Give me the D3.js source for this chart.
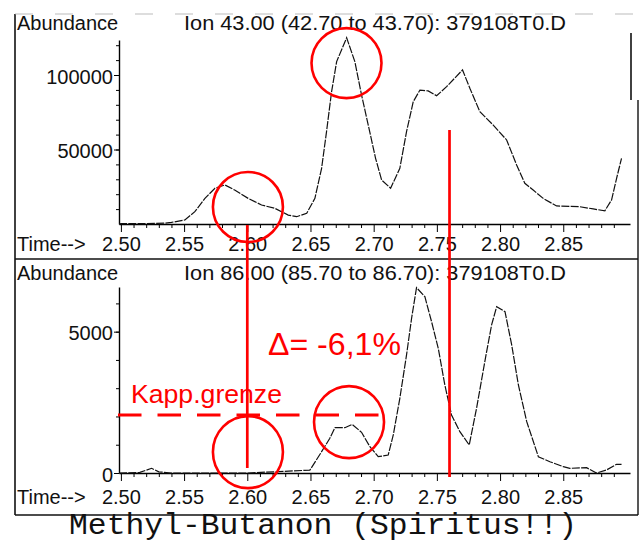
<!DOCTYPE html>
<html>
<head>
<meta charset="utf-8">
<script src="https://cdn.jsdelivr.net/npm/d3@7"></script>
<style>
  html, body { margin: 0; padding: 0; background: #fff; }
  svg { display: block; }
  text { font-family: "Liberation Sans", Arial, Helvetica, sans-serif; fill: #111; }
</style>
</head>
<body>
<svg id="chart" width="641" height="544"></svg>
<script>
// Ion 43 trace (retention time in min, abundance)
const ion43Time  = [2.4985, 2.500, 2.520, 2.535, 2.540, 2.5506, 2.5585, 2.5665, 2.5744, 2.5823, 2.590, 2.6007,
                    2.6113, 2.6218, 2.6324, 2.639, 2.647, 2.6535, 2.6588, 2.6627, 2.6667, 2.6707, 2.6786,
                    2.6851, 2.6904, 2.6957, 2.7015, 2.7063, 2.7134, 2.7207, 2.726, 2.7313, 2.7366, 2.7431,
                    2.7498, 2.7577, 2.7703, 2.7761, 2.784, 2.7946, 2.8052, 2.8131, 2.8196, 2.8262, 2.8341,
                    2.8447, 2.8631, 2.8737, 2.8829, 2.8882, 2.8922, 2.8961];
const ion43Abund = [0, 200, 300, 600, 1100, 2700, 8300, 17200, 24000, 26200, 22800, 17200,
                    12750, 10500, 6000, 4900, 7200, 17200, 37400, 62000, 88800, 109000, 125000,
                    109000, 86600, 66400, 44100, 29500, 24000, 37400, 62000, 82100, 89900, 89300,
                    86100, 92200, 103400, 91100, 75400, 66400, 56400, 39600, 27300, 22800, 17200,
                    12100, 11600, 10100, 8900, 16100, 30700, 44100];

// Ion 86 trace
const ion86Time  = [2.4985, 2.515, 2.5243, 2.530, 2.540, 2.600, 2.6495, 2.6588, 2.6653, 2.6693, 2.6772, 2.683,
                    2.6904, 2.697, 2.7036, 2.7115, 2.7155, 2.7207, 2.726, 2.730, 2.7339, 2.7405, 2.7458,
                    2.7511, 2.7563, 2.7616, 2.7682, 2.7756, 2.7814, 2.7884, 2.7933, 2.7973, 2.8039, 2.8092,
                    2.8145, 2.8211, 2.8303, 2.8394, 2.850, 2.8552, 2.8684, 2.8763, 2.8842, 2.8922, 2.8961];
const ion86Abund = [0, 20, 166, 40, 0, 0, 100, 754, 1228, 1603, 1603, 1720,
                    1440, 931, 577, 637, 1345, 2643, 4176, 5474, 6557, 6238, 5354,
                    4412, 3114, 2052, 1461, 991, 2289, 4058, 5237, 5885, 5707, 4529,
                    3114, 1815, 577, 400, 223, 166, 189, 0, 106, 308, 308];

// axis ticks and labels
const majorTicks   = [2.50, 2.55, 2.60, 2.65, 2.70, 2.75, 2.80, 2.85];
const minorTicks   = d3.range(250, 291).filter(d => d % 5 !== 0).map(d => d / 100);
const topYTicks    = [50000, 100000];
const topYMinor    = d3.range(10000, 120001, 10000);
const bottomYTicks = [0, 5000];
const bottomYMinor = d3.range(1000, 6001, 1000);

const topHeader    = "Ion  43.00 (42.70 to 43.70): 379108T0.D";
const bottomHeader = "Ion  86.00 (85.70 to 86.70): 379108T0.D";
const title        = "Methyl-Butanon (Spiritus!!)";

// annotations
const kappLimit  = 2050;          // Kappungsgrenze in the ion 86 trace
const markTimes  = [2.60, 2.76];
const deltaLabel = "\u0394= -6,1%";
const kappLabel  = "Kapp.grenze";
const topRings    = [[2.6785, 108000], [2.6005, 11400]];
const bottomRings = [[2.6005, 740], [2.6805, 1800]];

const RED = "#ff0000";
const svg = d3.select("#chart");

const x = d3.scaleLinear().domain([2.4985, 2.9028]).range([119, 630]);
const yTop = d3.scaleLinear().domain([0, 123500]).range([224, 40]);
const yBot = d3.scaleLinear().domain([0, 6580]).range([473, 287]);

// outer frame and panel divider
const frame = svg.append("g").attr("stroke", "#111").attr("fill", "none");
frame.append("line").attr("x1", 15).attr("x2", 15).attr("y1", 14).attr("y2", 515).attr("stroke-width", 1.6);
frame.append("line").attr("x1", 15).attr("x2", 638).attr("y1", 515).attr("y2", 515).attr("stroke-width", 1.6);
frame.append("line").attr("x1", 638).attr("x2", 638).attr("y1", 100).attr("y2", 515).attr("stroke-width", 1.4);
frame.append("line").attr("x1", 631).attr("x2", 631).attr("y1", 33).attr("y2", 100).attr("stroke-width", 1.6);
frame.append("line").attr("x1", 15).attr("x2", 638).attr("y1", 259).attr("y2", 259).attr("stroke-width", 1.4);
frame.append("line").attr("x1", 15).attr("x2", 638).attr("y1", 14).attr("y2", 14)
  .attr("stroke-width", 0.8).attr("stroke", "#aaa").attr("stroke-dasharray", "18,22");

function panel(yScale, yTicks, yMinor, times, values, header, headerY, labelPad) {
  const axisY = yScale(0);
  const g = svg.append("g");

  // x axis: minor ticks every 0.01, major every 0.05
  g.append("g").attr("transform", `translate(0,${axisY})`)
    .call(d3.axisBottom(x).tickValues(minorTicks).tickSize(4).tickSizeOuter(0).tickFormat(""))
    .call(a => a.select(".domain").remove());
  const xa = g.append("g").attr("transform", `translate(0,${axisY})`)
    .call(d3.axisBottom(x).tickValues(majorTicks).tickSize(8).tickSizeOuter(0)
      .tickPadding(labelPad).tickFormat(d3.format(".2f")));
  xa.select(".domain").attr("stroke-width", 1.4);
  xa.selectAll("text").attr("font-size", 20).attr("font-family", null);

  // y axis
  g.append("g").attr("transform", `translate(${x.range()[0]},0)`)
    .call(d3.axisLeft(yScale).tickValues(yMinor).tickSize(3).tickSizeOuter(0).tickFormat(""))
    .call(a => a.select(".domain").remove());
  const ya = g.append("g").attr("transform", `translate(${x.range()[0]},0)`)
    .call(d3.axisLeft(yScale).tickValues(yTicks).tickSize(5).tickSizeOuter(0).tickPadding(1).tickFormat(d3.format("d")));
  ya.select(".domain").attr("stroke-width", 1.4);
  ya.selectAll("text").attr("font-size", 20).attr("font-family", null).attr("dy", "0.4em");

  // headers
  g.append("text").attr("x", 17).attr("y", headerY).attr("font-size", 20).text("Abundance");
  g.append("text").attr("x", 184).attr("y", headerY).attr("font-size", 20)
    .attr("textLength", 382).attr("lengthAdjust", "spacingAndGlyphs").text(header);
  g.append("text").attr("x", 17).attr("y", axisY + 8 + labelPad + 14.2).attr("font-size", 20).text("Time-->");

  // trace
  const pts = times.map((t, i) => [t, values[i]]);
  g.append("path").datum(pts)
    .attr("fill", "none").attr("stroke", "#111").attr("stroke-width", 1.2)
    .attr("stroke-dasharray", "8,1.3")
    .attr("d", d3.line().x(d => x(d[0])).y(d => yScale(d[1])));
}

panel(yTop, topYTicks, topYMinor, ion43Time, ion43Abund, topHeader, 30, 5);
panel(yBot, bottomYTicks, bottomYMinor, ion86Time, ion86Abund, bottomHeader, 280, 9);

// red annotations
const ann = svg.append("g");
ann.append("line")
  .attr("x1", x(markTimes[0])).attr("x2", x(markTimes[0]))
  .attr("y1", yTop(0) + 1).attr("y2", yBot(0) - 5)
  .attr("stroke", RED).attr("stroke-width", 2.7);
ann.append("line")
  .attr("x1", x(markTimes[1])).attr("x2", x(markTimes[1]))
  .attr("y1", yTop(63100)).attr("y2", yBot(0) + 4)
  .attr("stroke", RED).attr("stroke-width", 2.7);

ann.append("line")
  .attr("x1", x.range()[0] - 1).attr("x2", 381)
  .attr("y1", yBot(kappLimit)).attr("y2", yBot(kappLimit))
  .attr("stroke", RED).attr("stroke-width", 3).attr("stroke-dasharray", "23.5,16");

ann.selectAll("ellipse.top").data(topRings).join("ellipse")
  .attr("cx", d => x(d[0])).attr("cy", d => yTop(d[1]))
  .attr("rx", 35).attr("ry", 35)
  .attr("fill", "none").attr("stroke", RED).attr("stroke-width", 2.6);
ann.selectAll("ellipse.bottom").data(bottomRings).join("ellipse")
  .attr("cx", d => x(d[0])).attr("cy", d => yBot(d[1]))
  .attr("rx", 35).attr("ry", 36)
  .attr("fill", "none").attr("stroke", RED).attr("stroke-width", 2.6);

ann.append("text").attr("x", 268).attr("y", 355).attr("font-size", 31)
  .attr("textLength", 133).attr("lengthAdjust", "spacingAndGlyphs")
  .style("fill", RED).text(deltaLabel);
ann.append("text").attr("x", 131).attr("y", 403).attr("font-size", 25)
  .attr("textLength", 151).attr("lengthAdjust", "spacingAndGlyphs")
  .style("fill", RED).text(kappLabel);

// caption
svg.append("text").attr("x", 69).attr("y", 534)
  .attr("font-size", 29).attr("textLength", 508).attr("lengthAdjust", "spacingAndGlyphs")
  .style("font-family", "'Liberation Mono', 'Courier New', monospace")
  .text(title);
</script>
</body>
</html>
